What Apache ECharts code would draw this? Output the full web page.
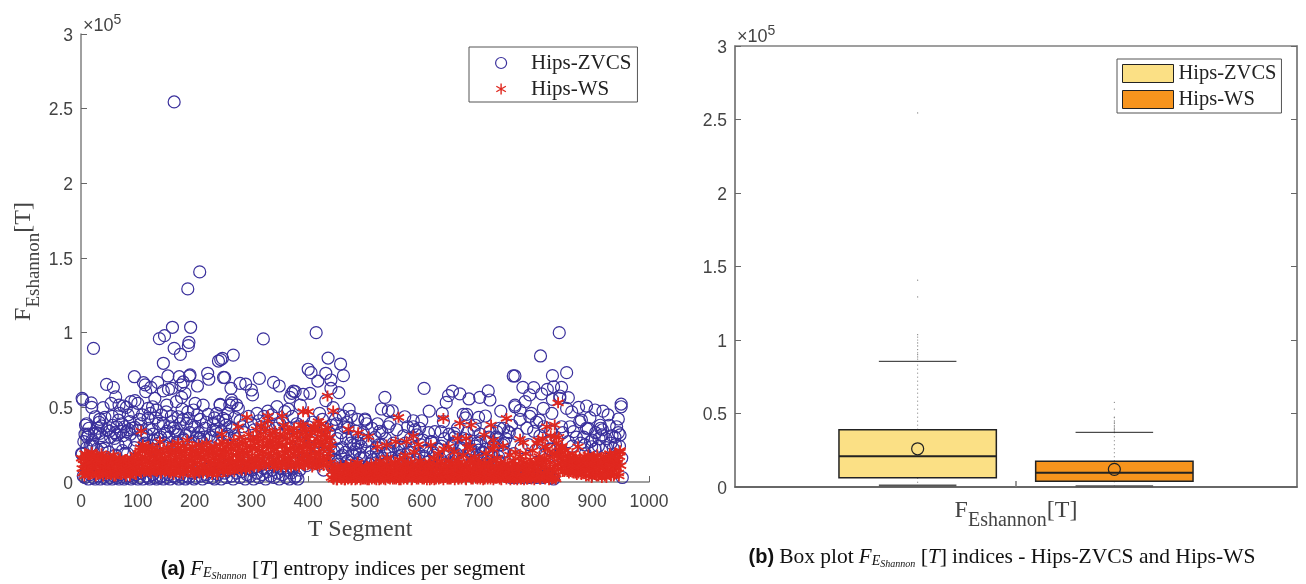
<!DOCTYPE html>
<html>
<head>
<meta charset="utf-8">
<script src="https://cdn.jsdelivr.net/npm/echarts@6/dist/echarts.min.js"></script>
<style>html,body{margin:0;padding:0;background:#fff}#c{width:1306px;height:584px}</style>
</head>
<body>
<div id="c"></div>
<script>
// Values below are in units of 10^4.
const seriesNames = ['Hips-ZVCS', 'Hips-WS'];
const xTicks = [0, 100, 200, 300, 400, 500, 600, 700, 800, 900, 1000];

// Hips-ZVCS points as [T segment, value]
const zvcsPoints = [
[164,25.45],[209,14.07],[188,12.93],
[161,10.36],[193,10.36],[147,9.8],[138,9.6],[22,8.95],[190,9.35],[189,9.13],[164,8.95],[175,8.55],[145,7.95],[242,8.1],[246,8.2],
[94,7.05],[192,7.17],[191,7.1],[223,7.28],[225,6.88],[153,7.1],[173,7.05],[251,7.0],[45,6.54],[57,6.34],[110,6.65],[113,6.5],[135,6.67],
[123,6.34],[114,6.05],[130,5.6],[145,6.1],[154,6.2],[160,6.27],[180,6.7],[176,6.5],[205,6.43],[183,5.94],[177,5.67],[168,5.38],
[61,5.7],[53,5.27],[39,4.98],[2,5.6],[3,5.5],[18,5.3],[19,5.0],[67,5.15],[75,5.09],[80,5.0],[88,5.38],[95,5.45],[100,5.27],
[118,4.93],[126,5.04],[133,4.82],[151,5.15],[178,4.87],[201,5.27],[198,4.82],[215,5.15],[245,5.2],[205,4.5],[224,4.53],[239,4.6],[250,4.26],
[25,4.37],[33,4.2],[42,4.33],[118,4.26],[171,4.37],[189,4.26],[8,3.8],[30,3.6],[33,3.26],[7,3.2],[13,3.2],[27,3.3],
[66,4.15],[63,3.7],[86,4.04],[72,3.9],[95,3.66],[80,3.37],[77,3.7],[101,3.48],[136,3.93],[145,3.93],[160,4.04],[157,3.7],[163,3.6],[148,3.26],
[186,3.93],[200,3.7],[233,3.93],[242,4.04],[233,3.48],[59,2.92],[63,3.15],[116,3.15],[209,2.92],[198,2.7],[213,2.7],[248,2.6],
[16,2.41],[22,2.41],[42,2.25],[77,1.92],[2,1.87],[10,3.9],[36,3.75],[50,3.4],[56,3.8],[70,3.4],[84,3.5],[90,3.6],[105,3.9],[110,3.1],[125,3.5],[128,2.8],[140,3.0],[152,3.4],[170,3.2],[180,2.9],[192,3.3],[207,3.3],[218,3.6],[226,3.1],[238,3.4],[255,3.8],
[321,9.58],[414,10.0],[268,8.5],[249,8.28],[435,8.3],[457,7.9],[400,7.55],[405,7.32],[431,7.28],[462,7.12],[253,6.99],[417,6.76],[440,6.83],
[314,6.94],[339,6.67],[349,6.43],[280,6.6],[290,6.56],[264,6.27],[300,6.16],[302,5.83],[374,6.09],[377,6.05],[371,5.94],[368,5.67],[391,5.87],[403,5.94],
[440,6.27],[454,5.98],[431,5.45],[386,5.15],[265,5.49],[266,5.3],[274,5.16],[277,4.93],[245,5.15],[262,5.15],[345,5.05],[365,4.87],[359,4.71],[329,4.75],[310,4.6],
[255,4.15],[271,4.33],[444,4.98],[472,4.87],[420,4.6],[462,4.42],[487,4.2],[500,4.22],[257,3.2],[262,3.7],[270,3.1],[285,3.7],[300,3.9],[318,3.7],[345,3.9],[342,3.6],[350,3.9],[365,3.6],[380,3.9],[400,3.7],[450,3.9],[464,3.7],[458,3.3],[467,2.9],[480,2.5],[488,2.6],[478,3.0],[497,3.3],[503,3.9],[470,3.6],
[604,6.27],[761,7.1],[654,6.09],[667,5.9],[647,5.78],[643,5.33],[683,5.56],[702,5.67],[720,5.49],[717,6.1],[535,5.67],[529,4.89],[541,4.77],[548,4.77],[613,4.75],[636,4.6],[673,4.53],[679,4.53],[739,4.75],[700,4.33],[712,4.42],[764,5.04],
[500,4.15],[522,3.9],[544,3.93],[570,4.37],[585,4.1],[600,4.1],[638,4.04],[677,4.3],[512,3.6],[526,3.4],[541,3.7],[585,3.7],[588,3.5],[591,3.15],[623,3.37],[634,3.37],[657,3.26],[694,3.8],[670,2.47],[700,2.14],[732,3.37],[744,3.6],[752,3.37],
[505,2.8],[518,3.0],[525,2.5],[530,3.3],[536,2.9],[550,2.6],[556,3.5],[562,2.3],[568,3.1],[575,3.7],[580,2.9],[596,3.6],[602,2.8],[607,2.1],[612,3.3],[618,2.7],[629,2.2],[640,2.9],[648,3.2],[652,2.4],[658,3.0],[663,3.6],[669,2.3],[674,2.9],[680,3.3],[686,2.2],[692,3.5],[697,2.6],[703,3.2],[708,2.0],[714,2.7],[720,3.4],[726,2.4],[731,3.0],[737,3.6],[742,2.5],[748,2.9],[754,3.3],
[842,10.0],[809,8.44],[855,7.32],[764,7.1],[830,7.12],[778,6.34],[797,6.32],[832,6.38],[846,6.34],[821,6.2],[811,5.9],[790,5.83],[782,5.38],[843,5.76],[843,5.6],[858,5.65],[830,5.53],[876,5.0],[890,5.09],[855,4.93],[905,4.82],[814,4.93],[919,4.75],[928,4.49],[951,5.22],[951,5.04],[946,4.22],[864,4.7],[896,4.31],[807,4.15],[829,4.6],[764,5.15],[773,4.8],[793,4.6],[881,4.15],[878,4.04],
[943,3.7],[949,3.15],[914,3.8],[915,3.6],[917,3.15],[890,3.6],[861,3.7],[867,3.37],[846,3.7],[887,2.48],[937,2.25],[899,2.36],[758,3.8],[768,3.2],[773,4.2],[785,3.6],[790,4.4],[797,3.4],[802,4.0],[808,3.1],[815,3.7],[822,2.7],[827,3.4],[838,2.9],[848,3.3],[885,3.0],[893,3.6],[900,2.8],[906,3.3],[911,2.4],[918,3.5],[924,2.9],[930,3.8],[935,3.1],[941,2.5],[946,3.3],[952,1.6],[953,0.3],
[5,2.7],[11,3.0],[14,3.6],[20,2.8],[24,3.2],[28,2.2],[32,4.0],[37,3.1],[41,2.7],[46,3.5],[52,3.0],[55,4.4],[60,3.3],[65,2.5],[68,4.6],[74,3.1],[79,2.6],[83,4.5],[87,3.2],[92,4.7],[97,2.8],[103,4.2],[108,4.5],[112,2.6],[120,3.6],[122,4.6],[127,3.2],[131,4.3],[135,2.9],[142,4.5],[147,2.6],[150,4.7],[155,3.0],[159,4.4],[166,3.4],[169,2.7],[174,3.9],[180,4.2],[184,3.1],[188,4.7],[195,3.8],[203,3.0],[210,4.2],[216,3.0],[221,4.0],[229,3.0],[235,4.3],[241,2.9],[247,3.4],[252,3.0],[258,4.6],[266,3.6],[273,2.9],[280,4.1],[288,3.3],[295,4.4],[305,3.5],[313,4.1],[322,4.4],[330,3.6],[336,4.5],[355,4.1],[361,3.3],[372,4.4],[384,3.7],[392,4.3],[396,3.4],[408,4.0],[425,4.2],[430,3.6],[437,3.3],[441,3.8],[448,4.2],[455,4.5],[468,4.0],[476,4.4],[484,3.4],[493,2.9],
[446,1.5],[452,2.2],[460,1.8],[470,1.4],[482,2.0],[492,1.6],[510,1.7],[520,2.0],[532,1.6],[545,2.1],[560,1.7],[576,2.0],[590,1.5],[605,1.7],[620,2.0],[632,1.6],[645,1.9],[660,1.7],[672,1.5],[690,1.8],[705,1.6],[718,1.9],[735,1.7],[746,2.0],[762,1.9],[775,2.3],[788,2.5],[800,2.1],[812,2.6],[825,2.2],[858,2.7],[865,2.4],[872,3.0],[880,2.6],[888,1.9],[897,2.7],[905,2.2],[912,2.9],[925,2.3],[933,2.6],[940,3.0],[948,2.4]
];

// Lower Hips-ZVCS values, one for every third segment from T = 1
const zvcsLowerEvery3 = [
1.9,0.4,0.3,2.3,0.2,0.5,2.4,0.3,0.2,1.1,0.4,0.2,2.2,0.3,0.5,0.2,2.0,0.3,0.2,0.4,1.8,0.3,0.2,0.5,2.1,0.2,0.3,1.9,0.4,0.2,0.3,2.3,0.5,0.2,
0.3,0.6,0.2,2.5,0.4,0.3,0.2,2.2,0.5,0.3,0.2,2.6,0.3,0.4,0.2,2.4,0.3,0.5,0.2,2.3,0.4,0.3,2.6,0.2,0.5,0.3,2.8,0.2,0.4,0.3,2.5,0.6,0.2,
0.3,0.7,2.9,0.4,0.2,0.9,0.5,0.3,0.7,1.0,0.3,0.2,0.8,0.5,0.9,0.2,1.1,0.6,0.3,0.8,1.2,0.4,0.2,0.9,0.6,1.0,0.3,0.7,1.3,0.2,0.5,0.9,0.4,
0.8,0.2,1.0,0.6,0.3,1.1,0.5,0.9,0.2,0.7,1.3,0.4,0.8,0.3,1.0,0.6,0.2,0.9,0.5,1.1,0.3,0.8,0.2,0.6,1.0,0.3,0.4,0.2,0.8,2.6,1.5,2.0,
1.1,2.3,1.6,2.8,1.3,1.9,2.4,1.2,2.7,1.7,0.8,2.2,1.4,1.8,2.5,1.0,2.1,1.5,2.9,1.2,1.7,2.3,0.9,2.0,1.4,1.1,2.6,1.8,0.7,2.2,1.3,1.9,2.4,1.0,
1.6,2.7,0.6,1.2,2.0,1.5,0.8,2.3,1.7,1.1,2.5,0.7,1.9,1.3,2.1,0.9,1.6,2.4,1.0,1.4,2.2,0.8,1.8,1.2,2.6,0.6,1.5,2.0,1.0,2.3,1.3,0.7,1.9,
2.5,1.1,1.6,2.1,0.8,1.4,2.7,1.0,1.8,0.6,2.2,1.3,2.4,0.9,1.7,1.2,2.0,0.7,1.5,2.6,1.1,1.9,0.5,2.3,1.4,0.8,1.6,2.8,1.0,2.1,1.3,0.6,2.4,
1.8,1.1,2.7,0.8,1.5,2.2,1.2,3.0,0.9,1.7,2.5,1.0,2.9,1.4,0.6,2.0,2.6,0.5,0.4,0.6,0.3,1.0,0.5,0.3,0.7,0.4,0.8,0.3,0.5,0.9,0.4,0.3,0.6,
0.4,0.8,0.3,0.5,0.4,0.7,0.3,1.9,0.4,0.5,2.2,0.3,0.2,1.8
];

// Hips-WS band values, one for every second segment from T = 1
const wsBandOdd = [
1.6,0.6,1.2,1.9,0.8,1.4,0.5,1.7,1.0,2.0,0.6,1.3,0.9,1.8,0.5,1.5,1.1,0.7,1.7,0.4,1.2,1.6,0.8,1.4,0.6,
1.1,0.5,1.5,0.8,1.2,0.4,1.4,0.7,1.0,1.6,0.5,1.3,0.8,1.1,0.4,1.5,0.9,1.3,0.6,1.6,0.7,1.2,1.8,0.5,1.4,
1.9,0.9,2.3,1.2,2.5,0.7,1.6,2.2,1.0,2.4,1.4,0.6,2.0,1.1,1.7,0.8,1.5,2.1,0.9,1.3,0.6,1.9,1.1,1.6,0.8,
1.4,2.3,0.7,1.8,1.1,2.5,0.5,1.5,2.0,0.9,2.6,1.3,0.6,1.9,1.1,2.4,0.8,1.6,2.8,1.0,2.2,0.7,1.4,2.0,1.2,
0.5,2.1,1.3,2.5,0.8,1.7,2.3,0.6,1.5,1.0,2.6,0.8,1.9,1.2,2.2,0.5,1.6,2.4,1.0,1.8,0.7,1.4,2.1,0.9,2.7,
1.3,0.7,2.0,1.0,2.5,1.6,0.8,2.2,1.2,2.8,0.9,1.8,2.4,1.1,3.0,1.5,0.8,2.1,1.3,2.6,1.0,1.9,3.2,0.9,2.4,
1.5,3.0,1.0,2.3,3.5,1.7,2.7,1.1,3.8,2.0,2.9,1.4,3.4,2.4,4.1,1.2,2.8,1.8,3.3,1.5,2.2,3.0,1.1,2.6,1.7,
3.2,1.4,2.4,3.8,1.9,1.0,2.9,1.6,3.4,2.2,1.2,2.7,3.6,1.8,1.1,3.0,2.3,1.5,3.8,2.0,1.2,2.6,3.3,1.7,2.9,
1.3,3.1,2.2,1.0,3.7,1.9,2.6,1.2,3.4,2.0,1.5,3.9,2.5,1.1,3.2,2.8,1.6,3.6,2.2,1.3,
0.3,0.9,0.2,1.0,0.5,0.15,0.8,0.3,1.1,0.2,0.6,0.9,0.15,0.4,1.0,0.25,0.7,1.2,0.2,0.5,0.9,0.15,0.7,1.3,0.3,0.6,1.0,0.2,0.8,0.4,
0.2,1.0,0.4,0.15,0.8,1.2,0.3,0.6,0.2,1.1,0.5,0.9,0.15,1.4,0.3,0.7,0.2,1.0,0.4,1.6,0.25,0.8,0.5,1.1,0.2,
0.6,1.3,0.2,0.9,0.4,1.5,0.15,0.7,1.1,0.3,1.8,0.5,0.2,1.0,0.6,1.3,0.2,0.8,2.0,0.4,0.2,1.1,0.6,1.4,0.3,
0.2,0.9,0.5,1.1,0.15,0.7,0.3,1.3,0.2,0.8,1.6,0.4,0.2,1.0,1.9,0.5,0.25,1.2,0.7,2.2,0.3,0.9,0.2,1.4,0.5,
0.2,1.2,0.6,2.0,0.3,0.9,1.5,0.2,0.7,1.1,0.3,1.8,0.5,0.2,1.0,2.3,0.4,0.8,0.2,1.3,0.6,1.7,0.25,1.0,0.4,
1.4,0.2,0.8,0.5,1.1,0.2,1.9,0.7,0.3,1.2,0.2,0.9,2.2,0.5,0.25,1.0,1.6,0.4,0.2,1.3,0.7,2.4,0.3,0.9,0.2,
1.2,0.5,1.8,0.3,0.9,1.4,0.2,2.0,0.7,0.3,1.1,1.7,0.2,0.8,1.3,0.4,1.9,0.2,1.0,0.6,1.5,0.2,2.1,0.8,0.3,
1.2,2.6,0.4,1.7,0.2,1.0,2.9,0.6,0.2,1.5,2.2,0.3,0.9,3.1,0.2,0.7,1.8,0.3,
2.6,1.2,3.0,1.8,0.9,2.4,1.4,0.7,2.1,1.1,1.8,0.6,1.5,0.9,1.9,0.6,1.3,1.7,0.5,1.2,0.8,1.6,
0.5,1.3,0.9,1.7,0.4,1.1,1.8,0.6,1.4,0.3,1.0,1.7,0.5,1.2,1.8,0.4,0.9,1.5,0.3,1.1,0.6,1.7,0.3,1.3,0.8,1.9,0.4,1.0,1.5,0.5,1.9,0.9,1.3,0.4,2.0
];
const wsBandEven = [
0.9,1.5,0.4,1.1,1.8,0.7,1.3,0.5,1.6,0.9,1.2,1.7,0.4,1.0,1.5,0.7,1.3,1.9,0.6,1.0,1.4,0.5,1.1,1.7,0.9,
0.6,1.3,1.0,0.4,1.6,0.9,0.6,1.2,1.5,0.5,0.9,1.4,0.6,1.5,1.0,0.7,1.2,0.4,1.1,0.8,1.4,1.0,0.6,1.5,1.0,
1.3,2.1,0.6,1.7,1.0,2.2,1.4,0.8,1.9,0.7,1.8,1.1,2.3,0.8,1.3,2.0,0.7,1.2,1.8,0.6,1.5,1.0,2.2,0.7,1.3,
0.9,1.7,1.2,0.6,2.1,1.0,1.9,0.7,1.3,2.3,0.8,1.6,2.1,1.2,0.5,1.7,1.3,2.2,0.7,1.5,1.9,1.0,2.4,0.6,1.7,
1.6,0.9,1.9,0.6,2.0,1.2,0.7,2.1,1.0,1.8,0.6,1.4,2.3,0.9,1.3,1.9,0.7,1.2,2.0,0.5,1.5,2.5,1.1,1.7,0.7,
1.9,1.1,2.4,0.7,1.5,0.9,2.2,1.3,1.8,0.7,2.5,1.4,1.0,2.0,1.6,0.9,2.7,1.2,1.9,0.8,2.3,1.4,1.1,2.8,1.6,
2.2,1.2,2.6,1.5,2.9,1.0,2.1,3.2,1.3,2.4,1.7,3.6,1.1,2.6,1.9,3.1,2.3,1.4,2.7,1.0,3.4,1.9,2.4,1.3,3.0,
1.0,2.5,1.8,3.1,1.2,2.2,3.5,1.5,2.6,1.0,3.1,1.9,2.4,1.3,3.3,2.1,1.0,2.8,1.6,3.2,2.4,1.1,3.5,1.9,1.4,
2.4,1.6,3.3,1.1,2.5,3.6,1.4,2.9,1.8,1.0,2.7,3.2,1.5,2.3,3.5,1.2,2.9,1.9,3.0,2.5,
0.7,0.2,0.5,0.8,0.15,1.0,0.4,0.6,0.2,0.9,0.3,0.15,1.1,0.5,0.2,0.8,0.4,0.15,0.9,0.3,0.6,1.1,0.2,0.4,0.8,0.15,1.0,0.5,0.2,0.9,
0.6,0.15,0.9,0.3,0.5,0.2,1.0,0.4,0.8,0.15,0.6,0.3,1.2,0.2,0.9,0.4,0.6,0.15,1.1,0.3,0.7,0.2,1.3,0.4,0.8,
0.2,0.5,1.0,0.3,0.15,0.8,0.5,1.2,0.2,0.6,0.9,0.2,1.3,0.4,0.8,0.15,0.6,1.1,0.3,1.0,0.5,0.2,0.8,0.3,1.2,
0.6,0.2,1.0,0.3,0.6,1.2,0.15,0.5,1.0,0.3,0.15,0.7,1.2,0.4,0.2,0.8,1.4,0.3,0.15,0.6,1.1,0.4,0.7,0.2,1.0,
0.7,0.3,0.9,0.15,1.1,0.5,0.2,1.3,0.4,0.2,0.8,0.5,1.2,0.15,0.7,0.4,0.9,1.5,0.3,0.2,0.9,0.4,0.6,0.2,1.2,
0.5,0.9,0.3,0.15,0.7,1.2,0.4,0.2,1.0,0.5,1.5,0.3,0.15,0.8,1.1,0.25,0.6,1.0,0.3,0.15,0.9,0.4,1.2,0.6,1.0,
0.3,0.8,0.15,1.0,0.5,0.2,1.2,0.4,0.15,0.9,0.5,0.2,1.4,0.4,0.15,1.0,0.6,0.2,0.7,1.2,0.3,1.0,0.5,0.15,1.3,
0.3,0.8,1.5,0.2,0.6,1.2,0.3,1.6,1.0,0.3,0.7,0.15,1.3,0.5,1.9,0.25,1.0,0.2,
1.7,0.8,2.1,1.3,2.3,0.7,1.7,1.0,1.4,0.7,1.2,1.6,0.7,1.1,1.4,1.0,0.6,1.5,1.0,0.6,1.4,1.1,
1.0,0.6,1.5,0.8,1.2,1.6,0.4,0.9,1.2,1.6,0.6,1.2,0.9,0.4,1.5,1.1,0.5,1.3,0.9,1.6,0.4,1.0,1.4,0.7,1.5,1.1,0.6,1.7,0.4,1.2,1.0,1.5,0.6,1.7,1.1
];

// Hips-WS points standing out of the band as [T segment, value]
const wsPeaks = [
[106,3.4],[139,2.7],[57,1.8],[248,3.2],[292,4.33],[277,3.7],[329,4.42],[354,4.42],[391,4.71],[400,4.71],[444,4.75],[434,5.76],[471,3.53],[488,3.3],[418,4.04],[391,3.8],[412,3.7],
[559,4.33],[638,4.26],[667,3.93],[687,3.82],[749,4.26],[722,3.82],[710,3.15],[663,2.92],[678,2.92],[585,3.08],[573,2.7],[554,2.7],[522,2.36],[538,2.48],[506,3.03],[594,2.5],[616,2.48],[647,2.36],[685,2.36],[726,2.8],[727,2.4],
[840,5.3],[820,3.7],[834,3.82],[773,2.86],[779,2.63],[805,2.8],[834,3.03],[875,2.36],[949,2.1],[817,2.36]
];

// Box statistics
const zvcsBox = { low: 0.1, q1: 0.63, median: 2.1, q3: 3.9, high: 8.55, mean: 2.6 };
const wsBox = { low: 0.05, q1: 0.39, median: 0.97, q3: 1.75, high: 3.72, mean: 1.2 };
const zvcsOutliers = [8.7,8.85,9.0,9.13,9.35,9.6,9.8,10.0,10.2,10.36,12.93,14.07,25.45];
const wsOutliers = [3.8,3.9,4.0,4.1,4.2,4.33,4.42,4.5,4.71,4.75,5.3,5.76];

const UNIT = 1e4;
const GRAY = '#444444', AXIS = '#808080';
const BLUE = '#3a309c', RED = '#e0281f', PALE = '#fbe085', ORANGE = '#f7941d', EDGE = '#222222';
const ASTERISK = 'path://M0 -10L0 10M-8.66 -5L8.66 5M-8.66 5L8.66 -5';
const SANS = '"Liberation Sans",Arial,sans-serif', SERIF = '"Liberation Serif","Times New Roman",serif';

const zvcsData = zvcsPoints.map(p => [p[0], p[1] * UNIT])
  .concat(zvcsLowerEvery3.map((v, i) => [1 + i * 3, v * UNIT]));
const wsData = wsBandOdd.map((v, i) => [1 + i * 2, v * UNIT])
  .concat(wsBandEven.map((v, i) => [2 + i * 2, v * UNIT]))
  .concat(wsPeaks.map(p => [p[0], p[1] * UNIT]));

function boxRender(box, outliers, side, fill) {
  return function (params, api) {
    const band = api.size([1, 0])[0];
    const cx = api.coord([0, 0])[0] + side * 0.175 * band;
    const half = 0.14 * band, capHalf = 0.069 * band;
    const Y = v => api.coord([0, v * UNIT])[1];
    const line = (x1, y1, x2, y2, style) => ({ type: 'line', shape: { x1, y1, x2, y2 }, style });
    const dotted = { stroke: '#777777', lineWidth: 1, lineDash: [1, 3] };
    const kids = [
      line(cx, Y(box.q3), cx, Y(box.high), dotted),
      line(cx, Y(box.q1), cx, Y(box.low), dotted),
      line(cx - capHalf, Y(box.high), cx + capHalf, Y(box.high), { stroke: EDGE, lineWidth: 1 }),
      line(cx - capHalf, Y(box.low), cx + capHalf, Y(box.low), { stroke: '#555555', lineWidth: 2 }),
      { type: 'rect', shape: { x: cx - half, y: Y(box.q3), width: 2 * half, height: Y(box.q1) - Y(box.q3) },
        style: { fill, stroke: EDGE, lineWidth: 1.5 } },
      line(cx - half, Y(box.median), cx + half, Y(box.median), { stroke: EDGE, lineWidth: 2 }),
      { type: 'circle', shape: { cx, cy: Y(box.mean), r: 6 }, style: { fill: 'none', stroke: EDGE, lineWidth: 1.2 } }
    ];
    outliers.forEach(v => kids.push({ type: 'circle', shape: { cx, cy: Y(v), r: 0.6 }, style: { fill: '#777777' } }));
    return { type: 'group', children: kids };
  };
}

const subLabel = {
  f: { fontFamily: SERIF, fontSize: 24, color: GRAY },
  s: { fontFamily: SERIF, fontSize: 20, color: GRAY, padding: [20, 0, 0, 0] },
  k: { fontFamily: SERIF, fontSize: 24, color: GRAY }
};
const CAP = '#111';
const captionRich = {
  b: { fontFamily: SANS, fontWeight: 'bold', fontSize: 20, color: CAP },
  i: { fontFamily: SERIF, fontWeight: 'normal', fontStyle: 'italic', fontSize: 21, color: CAP },
  e: { fontFamily: SERIF, fontWeight: 'normal', fontStyle: 'italic', fontSize: 14, color: CAP, padding: [8, 0, 0, 0] },
  h: { fontFamily: SERIF, fontWeight: 'normal', fontStyle: 'italic', fontSize: 10, color: CAP, padding: [13, 0, 0, 0] },
  n: { fontFamily: SERIF, fontWeight: 'normal', fontSize: 22, color: CAP },
  t: { fontFamily: SERIF, fontWeight: 'normal', fontSize: 21.5, color: CAP }
};
const symbolText = '{i|F}{e|E}{h|Shannon}{n| [}{i|T}{n|]}';

const valueFmt = v => '{v|' + (v / 1e5) + '}';
const yBase = {
  type: 'value', min: 0, max: 300000, interval: 50000,
  axisLine: { show: true, lineStyle: { color: AXIS, width: 1.5 } },
  axisTick: { show: true, inside: true, length: 6, lineStyle: { color: '#666', width: 1 } },
  splitLine: { show: false },
  axisLabel: { formatter: valueFmt, margin: 8,
    rich: { v: { color: GRAY, fontFamily: SANS, fontSize: 17.5, padding: [4, 0, 0, 0] } } }
};
const power = {
  nameLocation: 'end', name: '{a|×10}{p|5}',
  nameTextStyle: { align: 'left', padding: [0, 0, 0, 2], rich: {
    a: { fontFamily: SANS, fontSize: 18, color: GRAY, padding: [6, 0, 0, 0] },
    p: { fontFamily: SANS, fontSize: 14, color: GRAY, padding: [0, 0, 6, 0] } } }
};

const option = {
  animation: false,
  backgroundColor: '#fff',
  title: [
    { text: '{b|(a)} ' + symbolText + ' {t|entropy indices per segment}', left: 338, top: 553, textAlign: 'center', textStyle: { rich: captionRich } },
    { text: '{b|(b)} {t|Box plot} ' + symbolText + ' {t|indices - Hips-ZVCS and Hips-WS}', left: 997, top: 541, textAlign: 'center', textStyle: { rich: captionRich } }
  ],
  legend: [
    { show: true, left: 469, top: 47, orient: 'vertical', selectedMode: false, backgroundColor: '#fff',
      borderColor: '#555', borderWidth: 1, borderRadius: 0, padding: [5, 6, 2, 26], itemWidth: 50, itemHeight: 11, itemGap: 4,
      textStyle: { fontFamily: SERIF, fontSize: 21, color: '#222', lineHeight: 22 },
      data: [
        { name: seriesNames[0], icon: 'circle', itemStyle: { color: 'transparent', borderColor: BLUE, borderWidth: 1.2 } },
        { name: seriesNames[1], icon: ASTERISK, itemStyle: { color: 'transparent', borderColor: RED, borderWidth: 1.4 } }
      ] },
    { show: true, left: 1117, top: 59, orient: 'vertical', selectedMode: false, backgroundColor: '#fff',
      borderColor: '#555', borderWidth: 1, borderRadius: 0, padding: [4, 5, 3, 5], itemWidth: 51, itemHeight: 18, itemGap: 5,
      textStyle: { fontFamily: SERIF, fontSize: 20.5, color: '#222' },
      data: [
        { name: seriesNames[0], icon: 'rect', itemStyle: { color: PALE, borderColor: EDGE, borderWidth: 1 } },
        { name: seriesNames[1], icon: 'rect', itemStyle: { color: ORANGE, borderColor: EDGE, borderWidth: 1 } }
      ] }
  ],
  grid: [
    { left: 81, top: 34, width: 568, height: 448, show: false },
    { left: 735, top: 46, width: 562, height: 441, show: true, borderColor: AXIS, borderWidth: 1.5, backgroundColor: 'transparent' }
  ],
  xAxis: [
    { gridIndex: 0, type: 'value', min: 0, max: 1000, interval: 100,
      name: 'T Segment', nameLocation: 'middle', nameGap: 36,
      nameTextStyle: { fontFamily: SERIF, fontSize: 24, color: GRAY, padding: [0, 10, 0, 0] },
      axisLine: { show: true, onZero: false, lineStyle: { color: AXIS, width: 1.5 } },
      axisTick: { show: true, inside: true, length: 6, lineStyle: { color: '#666' } },
      splitLine: { show: false },
      axisLabel: { color: GRAY, fontFamily: SANS, fontSize: 17.5, margin: 11, formatter: v => xTicks.includes(v) ? String(v) : '' } },
    { gridIndex: 1, type: 'category', data: ['F'], boundaryGap: true,
      axisLine: { show: true, lineStyle: { color: '#555', width: 1.5 } },
      axisTick: { show: true, inside: true, alignWithLabel: true, length: 6, lineStyle: { color: '#777', width: 1.5 } },
      splitLine: { show: false },
      axisLabel: { margin: 4, formatter: () => '{f|F}{s|Eshannon}{k|[T]}', rich: subLabel } }
  ],
  yAxis: [
    Object.assign({}, yBase, power, { gridIndex: 0, nameGap: -1 }),
    Object.assign({}, yBase, power, { gridIndex: 1, nameGap: 0 }),
    Object.assign({}, yBase, { gridIndex: 1, position: 'right', axisLabel: { show: false } })
  ],
  graphic: [
    { type: 'text', rotation: Math.PI / 2, left: 12, top: 202,
      style: { rich: {
        f: { fontFamily: SERIF, fontSize: 24, fill: GRAY },
        s: { fontFamily: SERIF, fontSize: 19, fill: GRAY, padding: [20, 0, 0, 0] },
        k: { fontFamily: SERIF, fontSize: 24, fill: GRAY } },
        text: '{f|F}{s|Eshannon}{k|[T]}' } }
  ],
  series: [
    { name: seriesNames[0], type: 'scatter', xAxisIndex: 0, yAxisIndex: 0, data: zvcsData, symbol: 'circle', symbolSize: 12,
      silent: true, itemStyle: { color: 'transparent', borderColor: BLUE, borderWidth: 1.2, opacity: 1 } },
    { name: seriesNames[1], type: 'scatter', xAxisIndex: 0, yAxisIndex: 0, data: wsData, symbol: ASTERISK, symbolSize: 11,
      silent: true, itemStyle: { color: 'transparent', borderColor: RED, borderWidth: 1.8, opacity: 1 } },
    { name: seriesNames[0], type: 'custom', xAxisIndex: 1, yAxisIndex: 1, coordinateSystem: 'cartesian2d', clip: false, silent: true,
      data: [[0, zvcsBox.q1 * UNIT, zvcsBox.median * UNIT, zvcsBox.q3 * UNIT]],
      renderItem: boxRender(zvcsBox, zvcsOutliers, -1, PALE) },
    { name: seriesNames[1], type: 'custom', xAxisIndex: 1, yAxisIndex: 1, coordinateSystem: 'cartesian2d', clip: false, silent: true,
      data: [[0, wsBox.q1 * UNIT, wsBox.median * UNIT, wsBox.q3 * UNIT]],
      renderItem: boxRender(wsBox, wsOutliers, 1, ORANGE) }
  ]
};
echarts.init(document.getElementById('c'), null, { renderer: 'canvas' }).setOption(option);
</script>
</body>
</html>
